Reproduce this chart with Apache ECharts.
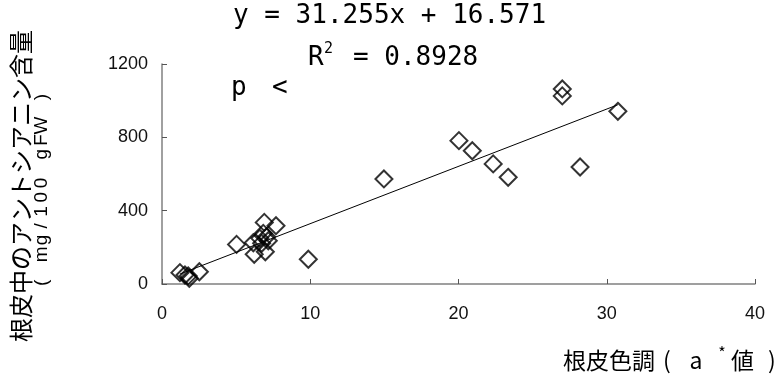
<!DOCTYPE html>
<html><head><meta charset="utf-8">
<script src="https://cdn.jsdelivr.net/npm/echarts@6/dist/echarts.min.js"></script>
<style>html,body{margin:0;padding:0;background:#fff}#c{width:781px;height:378px}</style>
</head><body><div id="c"></div>
<script>
const xValues = [1.21, 1.55, 1.77, 1.84, 2.52, 5.03, 6.16, 6.22, 6.6, 6.72, 6.83, 6.9, 6.97, 7.06, 7.17, 7.69, 9.87, 14.97, 20.03, 20.93, 22.34, 23.35, 27.0, 27.0, 28.2, 30.75];
const yValues = [62, 49, 44, 31, 67, 216, 225, 162, 249, 222, 276, 336, 176, 258, 236, 318, 135, 573, 782, 727, 655, 582, 1064, 1026, 638, 942];
const slope = 31.255, intercept = 16.571;
const xTicks = [0, 10, 20, 30, 40];
const yTicks = [0, 400, 800, 1200];
const yNameLine1 = '根皮中のアントシアニン含量';
const yNameLine2 = '( mg/100 gFW )';

const pts = xValues.map((x, i) => [x, yValues[i]]);
const xMin = Math.min(...xValues), xMax = Math.max(...xValues);
const fitLine = [[xMin, slope * xMin + intercept], [xMax, slope * xMax + intercept]];

const mono = '"DejaVu Sans Mono"';
const chart = echarts.init(document.getElementById('c'), null, {renderer: 'canvas'});
const lbl = {color: '#111', fontFamily: '"Liberation Sans", Arial, sans-serif', fontSize: 18, formatter: v => String(v)};
const axisLine = {show: true, lineStyle: {color: '#808080', width: 1.5}};
const axisTick = {show: true, inside: true, length: 5, lineStyle: {color: '#555'}};

// rich tokens, one per character, to reproduce the wide fixed pitch
const line2Rich = {};
let line2Text = '';
yNameLine2.split('').forEach((ch, i) => {
  line2Rich['c' + i] = {width: 14.3, align: 'center', font: '19px "Liberation Sans"', fill: '#000'};
  line2Text += '{c' + i + '|' + (ch === ' ' ? '\u00a0' : ch) + '}';
});

chart.setOption({
  animation: false,
  grid: {left: 162, right: 26, top: 64, bottom: 94},
  xAxis: {type: 'value', min: xTicks[0], max: xTicks[xTicks.length - 1], interval: 10,
    axisLine, axisTick, splitLine: {show: false}, axisLabel: Object.assign({margin: 21}, lbl)},
  yAxis: {type: 'value', min: yTicks[0], max: yTicks[yTicks.length - 1], interval: 400,
    axisLine, axisTick, splitLine: {show: false}, axisLabel: Object.assign({margin: 14}, lbl)},
  series: [
    {type: 'line', data: fitLine, showSymbol: false, symbol: 'none',
     lineStyle: {color: '#000', width: 1}, z: 1},
    {type: 'scatter', data: pts, symbol: 'diamond', symbolSize: [17, 17],
     itemStyle: {color: 'rgba(0,0,0,0)', borderColor: '#000', borderWidth: 2}, z: 2}
  ],
  graphic: [
    {type: 'text', x: 233, y: 16, style: {text: 'y = 31.255x + 16.571',
      font: '26px ' + mono, fill: '#000', verticalAlign: 'middle'}},
    {type: 'text', x: 308, y: 58, style: {text: 'R', font: '26px ' + mono, fill: '#000', verticalAlign: 'middle'}},
    {type: 'text', x: 324, y: 49, style: {text: '2', font: '15px ' + mono, fill: '#000', verticalAlign: 'middle'}},
    {type: 'text', x: 353, y: 58, style: {text: '= 0.8928', font: '26px ' + mono, fill: '#000', verticalAlign: 'middle'}},
    {type: 'text', x: 231, y: 88, style: {text: 'p', font: '26px ' + mono, fill: '#000', verticalAlign: 'middle'}},
    {type: 'text', x: 272, y: 88, style: {text: '<', font: '26px ' + mono, fill: '#000', verticalAlign: 'middle'}},
    {type: 'text', x: 563, y: 360, style: {
      text: '{a|根皮色調}{p|(}{b|a}{s|*}{a|値}{q|)}',
      verticalAlign: 'middle',
      rich: {
        a: {font: '23px "Noto Sans CJK JP"', fill: '#000'},
        p: {font: '23px "Noto Sans CJK JP"', fill: '#000', width: 24, align: 'center'},
        b: {font: '23px "Noto Sans CJK JP"', fill: '#000', width: 34, align: 'center'},
        s: {font: '16px "Noto Sans CJK JP"', fill: '#000', width: 18, align: 'center', padding: [0, 0, 14, 0]},
        q: {font: '23px "Noto Sans CJK JP"', fill: '#000', width: 36, align: 'center'}
      }}},
    {type: 'text', x: 21, y: 186, rotation: Math.PI / 2, style: {
      text: yNameLine1, font: '24px "Noto Sans CJK JP"', fill: '#000',
      align: 'center', verticalAlign: 'middle'}},
    {type: 'text', x: 42, y: 190, rotation: Math.PI / 2, style: {
      text: line2Text, rich: line2Rich, align: 'center', verticalAlign: 'middle'}}
  ]
});
</script></body></html>
